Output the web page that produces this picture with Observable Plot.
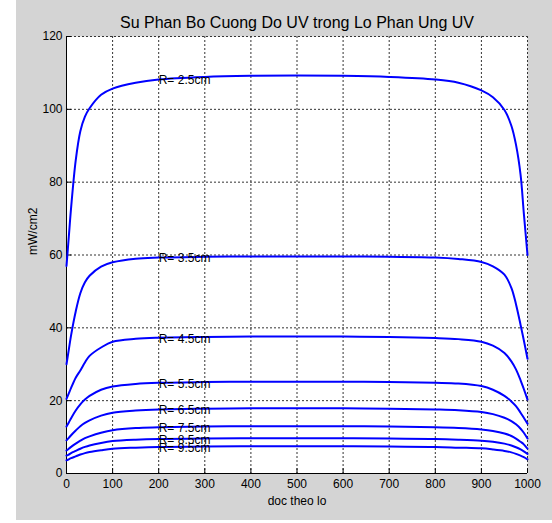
<!DOCTYPE html>
<html><head><meta charset="utf-8">
<script src="https://cdn.jsdelivr.net/npm/d3@7"></script>
<script src="https://cdn.jsdelivr.net/npm/@observablehq/plot@0.6"></script>
<style>
body{margin:0;background:#fff;}
#chart{position:absolute;left:16px;top:0;}
</style></head><body><div id="chart"></div>
<script>
// Position along the reactor (doc theo lo)
const xPos = [0, 5, 10, 20, 30, 40, 50, 75, 100, 150, 200, 300, 400, 500, 600, 700, 800, 850, 900, 925, 950, 965, 975, 985, 992, 1000];
// UV intensity (mW/cm2) for each radius
const r25 = [57, 65, 73, 86, 94, 98, 100.3, 104, 105.7, 107.3, 108.2, 108.9, 109.2, 109.3, 109.2, 108.9, 108.2, 107.3, 105.2, 103.3, 99.8, 95.5, 90.3, 82, 71.5, 60];
const r35 = [30, 34, 38, 44.5, 49.5, 52.5, 54.3, 56.8, 58, 59, 59.3, 59.5, 59.6, 59.6, 59.6, 59.5, 59.3, 58.9, 58.1, 56.9, 54.6, 51, 46.5, 40.8, 36.6, 31.5];
const r45 = [20.5, 22, 23.5, 26.3, 28.3, 30.5, 32.3, 34.6, 36.2, 37, 37.3, 37.5, 37.6, 37.6, 37.6, 37.5, 37.2, 36.9, 36.2, 35.1, 33.1, 30.8, 28.6, 25.6, 23.2, 20.3];
const r55 = [12.9, 14, 15.2, 17.3, 19, 20.3, 21.3, 23, 23.9, 24.6, 24.9, 25.1, 25.2, 25.2, 25.2, 25.1, 24.9, 24.7, 24, 23, 21.3, 19.8, 18.5, 16.7, 15.3, 13.7];
const r65 = [9.1, 9.8, 10.5, 11.8, 13, 13.9, 14.6, 15.9, 16.7, 17.3, 17.6, 17.8, 17.9, 17.9, 17.9, 17.8, 17.6, 17.4, 16.9, 16.3, 15.3, 14.4, 13.5, 12.3, 11.2, 9.6];
const r75 = [6.3, 6.8, 7.3, 8.2, 9, 9.7, 10.2, 11.2, 11.9, 12.5, 12.7, 12.9, 13, 13, 13, 12.9, 12.7, 12.5, 12.1, 11.7, 11, 10.3, 9.6, 8.7, 8, 6.8];
const r85 = [4.9, 5.2, 5.6, 6.2, 6.8, 7.3, 7.7, 8.4, 8.9, 9.3, 9.5, 9.6, 9.7, 9.7, 9.7, 9.6, 9.5, 9.3, 9, 8.7, 8.2, 7.7, 7.2, 6.6, 6.1, 5.4];
const r95 = [3.6, 3.9, 4.2, 4.7, 5.2, 5.6, 5.9, 6.4, 6.8, 7.1, 7.3, 7.4, 7.5, 7.5, 7.5, 7.4, 7.3, 7.1, 6.9, 6.6, 6.2, 5.8, 5.4, 4.9, 4.5, 3.9];
const radii = ["2.5", "3.5", "4.5", "5.5", "6.5", "7.5", "8.5", "9.5"];
const seriesValues = [r25, r35, r45, r55, r65, r75, r85, r95];
const labelX = 200;
const xTicks = [0, 100, 200, 300, 400, 500, 600, 700, 800, 900, 1000];
const yTicks = [0, 20, 40, 60, 80, 100, 120];
const titleText = "Su Phan Bo Cuong Do UV trong Lo Phan Ung UV";
const xLabel = "doc theo lo";
const yLabel = "mW/cm2";

const rows = radii.flatMap((r, i) => xPos.map((x, j) => ({r, x, y: seriesValues[i][j]})));
const labelIdx = xPos.indexOf(labelX);
const labels = radii.map((r, i) => ({text: `R= ${r}cm`, x: labelX, y: seriesValues[i][labelIdx]}));
const narrow = "'Liberation Sans Narrow', 'Arial Narrow', 'Liberation Sans', Arial, sans-serif";
const sans = "'Liberation Sans', Arial, sans-serif";

const chart = Plot.plot({
  width: 536, height: 520,
  marginLeft: 50, marginRight: 25, marginTop: 36, marginBottom: 47,
  style: {background: "#d4d4d4", fontFamily: sans, fontSize: "11px", color: "black", overflow: "visible"},
  x: {domain: [0, 1000]},
  y: {domain: [0, 120]},
  marks: [
    Plot.frame({fill: "white", stroke: null}),
    Plot.gridX(xTicks.filter(d => d > 0), {stroke: "#333", strokeOpacity: 1, strokeDasharray: "2,2", strokeWidth: 1}),
    Plot.gridY(yTicks.filter(d => d > 0), {stroke: "#333", strokeOpacity: 1, strokeDasharray: "2,2", strokeWidth: 1}),
    Plot.ruleX(xTicks, {y1: 0, y2: 1.3, stroke: "black"}),
    Plot.ruleY(yTicks, {x1: 0, x2: 11, stroke: "black"}),
    Plot.ruleX([0], {stroke: "black"}),
    Plot.ruleY([0], {stroke: "black"}),
    Plot.axisX(xTicks, {tickSize: 0, tickPadding: 6, label: null, tickFormat: d => String(d), fontFamily: narrow, fontSize: 12}),
    Plot.axisY(yTicks, {tickSize: 0, tickPadding: 4, label: null, tickFormat: d => String(d), fontFamily: narrow, fontSize: 12}),
    Plot.line(rows, {x: "x", y: "y", z: "r", stroke: "#0000ff", strokeWidth: 2, curve: "catmull-rom"}),
    Plot.text(labels, {x: "x", y: "y", text: "text", textAnchor: "start", fill: "black", fontFamily: narrow, fontSize: 12, dy: 1}),
    Plot.text([titleText], {frameAnchor: "top", dy: -20, fontSize: 16, fontFamily: sans, fill: "black"}),
    Plot.text([xLabel], {frameAnchor: "bottom", dy: 31, fontSize: 12, fontFamily: narrow, fill: "black"}),
    Plot.text([yLabel], {frameAnchor: "left", dx: -33, rotate: -90, fontSize: 12, fontFamily: narrow, fill: "black"})
  ]
});
document.getElementById("chart").append(chart);
</script></body></html>
